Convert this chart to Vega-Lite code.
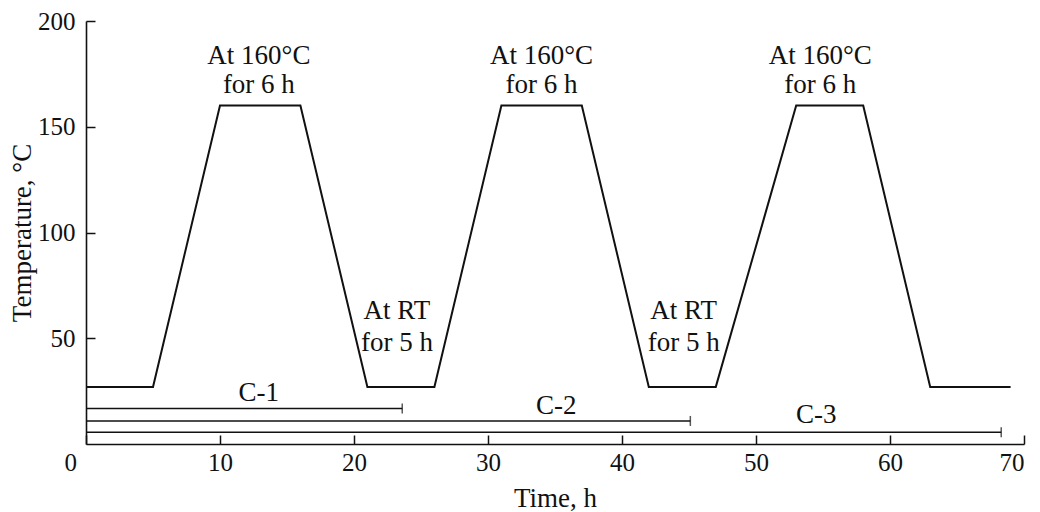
{
  "$schema": "https://vega.github.io/schema/vega-lite/v6.json",
  "width": 938,
  "height": 423,
  "autosize": "none",
  "padding": {"left": 86, "top": 21, "right": 16, "bottom": 68},
  "background": "white",
  "config": {
    "view": {"stroke": null},
    "font": "Liberation Serif",
    "axis": {
      "grid": false,
      "domainColor": "#111111",
      "domainWidth": 1.6,
      "tickColor": "#111111",
      "tickWidth": 1.5,
      "labelFont": "Liberation Serif",
      "labelFontSize": 25,
      "labelColor": "#111111",
      "titleFont": "Liberation Serif",
      "titleFontSize": 27,
      "titleFontWeight": "normal",
      "titleColor": "#111111"
    }
  },
  "datasets": {
    "profile": [
      {"time": 0, "temp": 27},
      {"time": 5, "temp": 27},
      {"time": 10, "temp": 160},
      {"time": 16, "temp": 160},
      {"time": 21, "temp": 27},
      {"time": 26, "temp": 27},
      {"time": 31, "temp": 160},
      {"time": 37, "temp": 160},
      {"time": 42, "temp": 27},
      {"time": 47, "temp": 27},
      {"time": 53, "temp": 160},
      {"time": 58, "temp": 160},
      {"time": 63, "temp": 27},
      {"time": 69, "temp": 27}
    ],
    "cycles": [
      {"name": "C-1", "start": 0, "end": 23.6, "level": 16.8},
      {"name": "C-2", "start": 0, "end": 45.1, "level": 10.9},
      {"name": "C-3", "start": 0, "end": 68.3, "level": 5.5}
    ],
    "labels": [
      {"x": 12.9, "y": 179.8, "text": "At 160°C"},
      {"x": 12.9, "y": 166.0, "text": "for 6 h"},
      {"x": 34.0, "y": 179.8, "text": "At 160°C"},
      {"x": 34.0, "y": 166.0, "text": "for 6 h"},
      {"x": 54.8, "y": 179.8, "text": "At 160°C"},
      {"x": 54.8, "y": 166.0, "text": "for 6 h"},
      {"x": 23.2, "y": 59.3, "text": "At RT"},
      {"x": 23.2, "y": 43.8, "text": "for 5 h"},
      {"x": 44.6, "y": 59.3, "text": "At RT"},
      {"x": 44.6, "y": 43.8, "text": "for 5 h"},
      {"x": 12.9, "y": 20.2, "text": "C-1"},
      {"x": 35.1, "y": 14.2, "text": "C-2"},
      {"x": 54.5, "y": 9.9, "text": "C-3"}
    ]
  },
  "layer": [
    {
      "data": {"name": "profile"},
      "mark": {"type": "line", "color": "#111111", "strokeWidth": 2},
      "encoding": {
        "x": {
          "field": "time",
          "type": "quantitative",
          "scale": {"domain": [0, 70], "nice": false},
          "axis": {
            "title": "Time, h",
            "values": [0, 10, 20, 30, 40, 50, 60, 70],
            "tickSize": -9,
            "labelPadding": 15,
            "labelOffset": {"condition": {"test": "datum.value === 0", "value": -22}, "value": 0},
            "titlePadding": 10
          }
        },
        "y": {
          "field": "temp",
          "type": "quantitative",
          "scale": {"domain": [0, 200], "nice": false},
          "axis": {
            "title": "Temperature, °C",
            "values": [50, 100, 150, 200],
            "tickSize": -9,
            "labelPadding": 20,
            "titlePadding": 1
          }
        }
      }
    },
    {
      "data": {"name": "cycles"},
      "mark": {"type": "rule", "color": "#111111", "strokeWidth": 1.5},
      "encoding": {
        "x": {"field": "start", "type": "quantitative"},
        "x2": {"field": "end"},
        "y": {"field": "level", "type": "quantitative"}
      }
    },
    {
      "data": {"name": "cycles"},
      "mark": {"type": "tick", "orient": "vertical", "color": "#111111", "size": 10, "thickness": 1.5},
      "encoding": {
        "x": {"field": "end", "type": "quantitative"},
        "y": {"field": "level", "type": "quantitative"}
      }
    },
    {
      "data": {"name": "labels"},
      "mark": {"type": "text", "font": "Liberation Serif", "fontSize": 27, "color": "#111111", "align": "center", "baseline": "alphabetic"},
      "encoding": {
        "x": {"field": "x", "type": "quantitative"},
        "y": {"field": "y", "type": "quantitative"},
        "text": {"field": "text", "type": "nominal"}
      }
    }
  ]
}
